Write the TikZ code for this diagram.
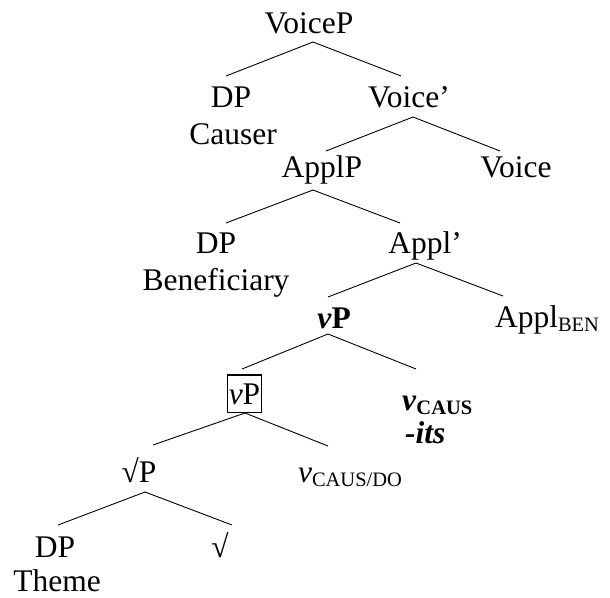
\documentclass[tikz,border=0pt]{standalone}
\usepackage{fontspec}
\setmainfont{Liberation Serif}
\newcommand\lbl[1]{\raisebox{-4.5pt}{\fontsize{20.5}{22}\selectfont #1}}
\begin{document}
\begin{tikzpicture}[x=1pt,y=-1pt,
  lab/.style={inner sep=0pt,anchor=base,font=\fontsize{31.5}{37}\selectfont},
  branch/.style={line width=0.9pt},
  boxed/.style={draw,line width=1.4pt,inner xsep=1.5pt,inner ysep=0pt,
    text height=29pt,text depth=8.5pt}]
\useasboundingbox (0,0) rectangle (610,597);

% labels
\node[lab] (voicep) at (309,33) {VoiceP};
\node[lab] (dpc) at (231,107) {DP};
\node[lab] (causer) at (233,144) {Causer};
\node[lab] (voicebar) at (409,107) {Voice’};
\node[lab] (applp) at (322,177) {ApplP};
\node[lab] (voice) at (516,177) {Voice};
\node[lab] (dpb) at (216,253) {DP};
\node[lab] (benef) at (216,290) {Beneficiary};
\node[lab] (applbar) at (425,253) {Appl’};
\node[lab] (vp) at (334,328) {\textbf{\textit{v}P}};
\node[lab] (applben) at (547,327) {Appl\lbl{BEN}};
\node[lab,boxed] (vpbox) at (244.5,404) {\textit{v}P};
\node[lab,anchor=base west] (vcaus) at (402,410) {\textbf{\textit{v}\lbl{CAUS}}};
\node[lab,anchor=base west] (its) at (405,443) {\textbf{\textit{-its}}};
\node[lab] (rootp) at (139,482) {√P};
\node[lab] (vcausdo) at (350,482) {\textit{v}\lbl{CAUS/DO}};
\node[lab] (dpt) at (55,557) {DP};
\node[lab] (theme) at (57,591) {Theme};
\node[lab] (root) at (220,557) {√};

% attachment points: apex below a mother, end above a daughter
\coordinate (voicep-b) at (313,42);
\coordinate (dpc-t) at (226,76);
\coordinate (voicebar-t) at (401,76);
\coordinate (voicebar-b) at (413,117);
\coordinate (applp-t) at (326,151);
\coordinate (voice-t) at (500,151);
\coordinate (applp-b) at (313,190);
\coordinate (dpb-t) at (226,223);
\coordinate (applbar-t) at (400,223);
\coordinate (applbar-b) at (416,263);
\coordinate (vp-t) at (328,297);
\coordinate (applben-t) at (503,296);
\coordinate (vp-b) at (328,334);
\coordinate (vpbox-t) at (242,369);
\coordinate (vcaus-t) at (416,369);
\coordinate (vpbox-b) at (245,413);
\coordinate (rootp-t) at (153,445);
\coordinate (vcausdo-t) at (328,446);
\coordinate (rootp-b) at (145,492);
\coordinate (dpt-t) at (58,525);
\coordinate (root-t) at (232,525);

% branches
\draw[branch] (dpc-t) -- (voicep-b) -- (voicebar-t);
\draw[branch] (applp-t) -- (voicebar-b) -- (voice-t);
\draw[branch] (dpb-t) -- (applp-b) -- (applbar-t);
\draw[branch] (vp-t) -- (applbar-b) -- (applben-t);
\draw[branch] (vpbox-t) -- (vp-b) -- (vcaus-t);
\draw[branch] (rootp-t) -- (vpbox-b) -- (vcausdo-t);
\draw[branch] (dpt-t) -- (rootp-b) -- (root-t);
\end{tikzpicture}
\end{document}
